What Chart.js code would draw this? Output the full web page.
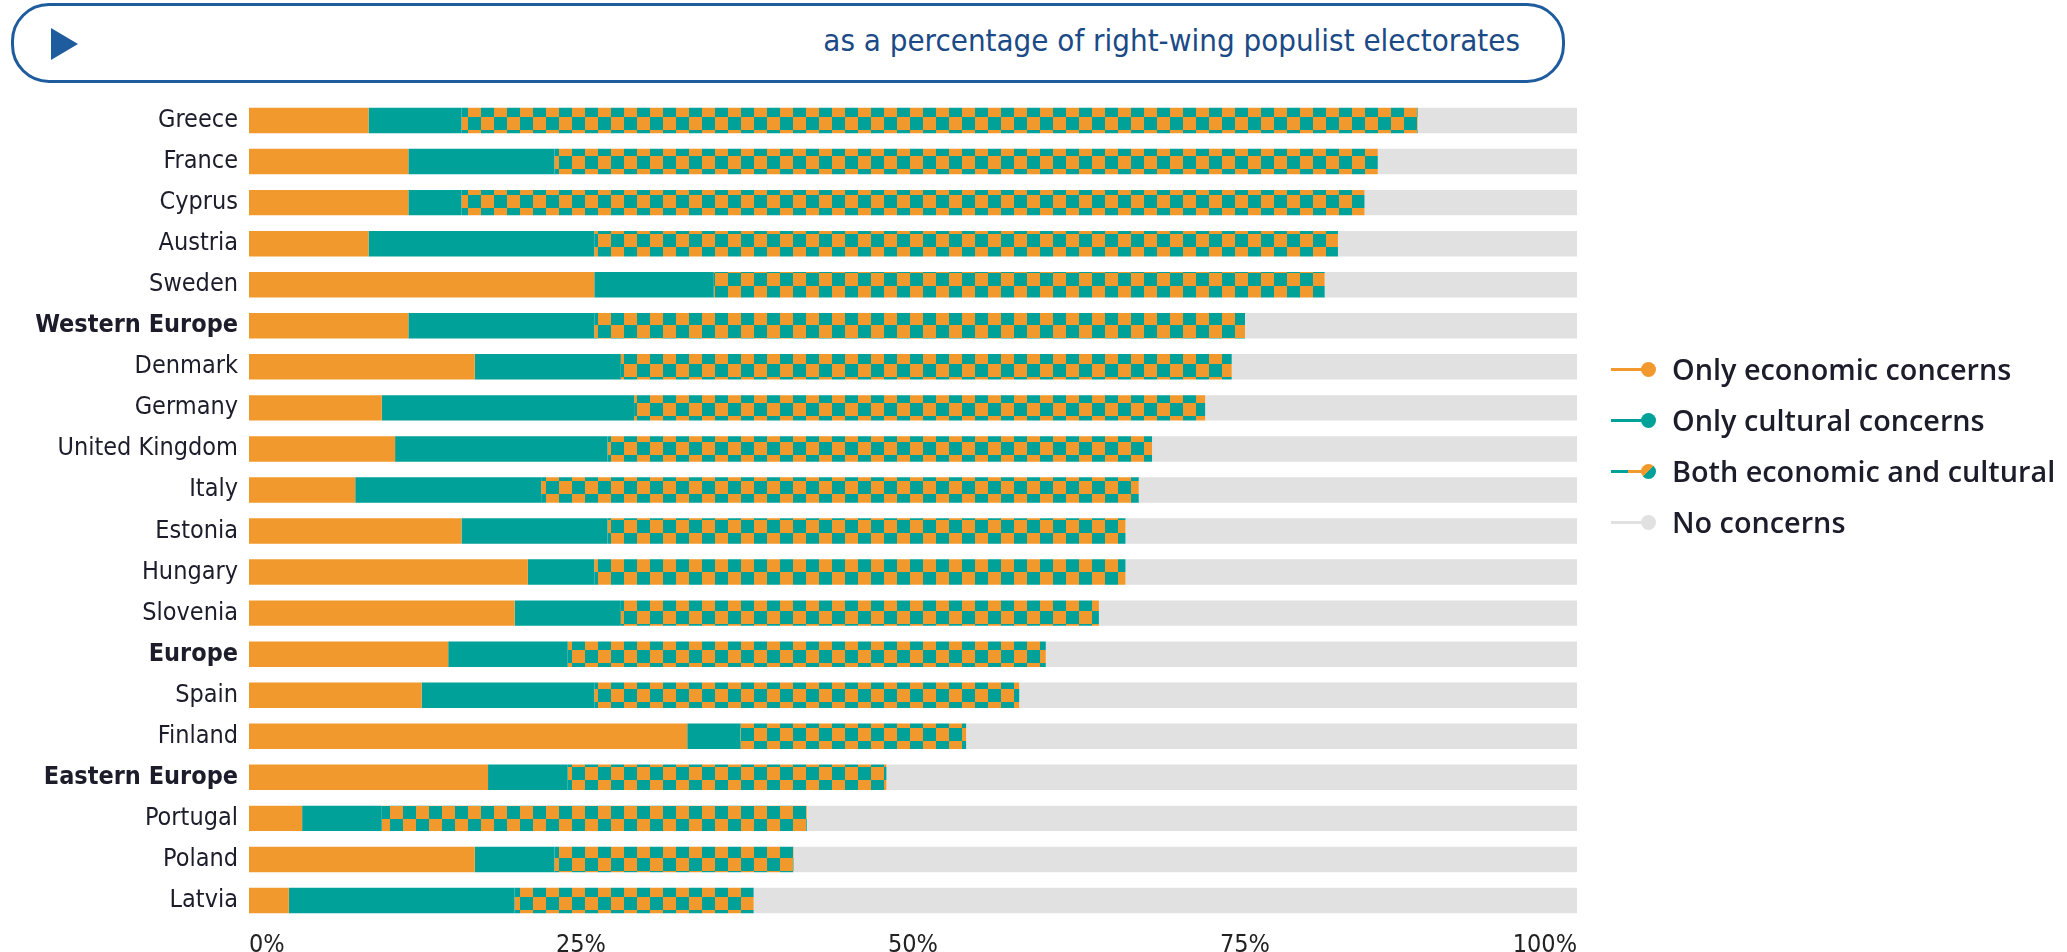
<!DOCTYPE html>
<html>
<head>
<meta charset="utf-8">
<script src="https://cdn.jsdelivr.net/npm/chart.js@4.4.0/dist/chart.umd.min.js"></script>
<style>
  body { margin: 0; background: #fff; width: 2067px; height: 952px; overflow: hidden; position: relative; }
  #header {
    position: absolute; left: 11px; top: 3px; width: 1548px; height: 74px;
    border: 3px solid #1f5c9e; border-radius: 38px; box-sizing: content-box;
  }
  #header .tri {
    position: absolute; left: 37px; top: 22px; width: 0; height: 0;
    border-top: 16px solid transparent; border-bottom: 16px solid transparent;
    border-left: 27px solid #1f5c9e;
  }
  #header .txt {
    position: absolute; right: 42px; top: 16px;
    font-family: "Liberation Sans Narrow", "DejaVu Sans Condensed", sans-serif;
    font-size: 31px; color: #1b4a86;
  }
  #chart { position: absolute; left: 0; top: 0; }
  #legend { position: absolute; left: 1611px; top: 352px; font-family: "Open Sans", sans-serif; }
  .item { position: relative; height: 51px; }
  .line { position: absolute; left: 0; top: 16px; width: 34px; height: 3px; }
  .dot { position: absolute; left: 30px; top: 10px; width: 15px; height: 15px; border-radius: 50%; }
  .lab { position: absolute; left: 61px; top: -3px; font-size: 28.8px; font-weight: 600; color: #1c1c2a; white-space: nowrap; }
</style>
</head>
<body>
<div id="header"><div class="tri"></div><div class="txt">as a percentage of right-wing populist electorates</div></div>
<canvas id="chart" width="2067" height="952"></canvas>
<div id="legend"></div>
<script>
// data (percent of right-wing populist electorates)
const countries = ['Greece', 'France', 'Cyprus', 'Austria', 'Sweden', 'Western Europe', 'Denmark', 'Germany',
  'United Kingdom', 'Italy', 'Estonia', 'Hungary', 'Slovenia', 'Europe', 'Spain', 'Finland',
  'Eastern Europe', 'Portugal', 'Poland', 'Latvia'];
const economic = [9, 12, 12, 9, 26, 12, 17, 10, 11, 8, 16, 21, 20, 15, 13, 33, 18, 4, 17, 3];
const cultural = [7, 11, 4, 17, 9, 14, 11, 19, 16, 14, 11, 5, 8, 9, 13, 4, 6, 6, 6, 17];
const both = [72, 62, 68, 56, 46, 49, 46, 43, 41, 45, 39, 40, 36, 36, 32, 17, 24, 32, 18, 18];
const aggregates = ['Western Europe', 'Europe', 'Eastern Europe'];
const seriesNames = ['Only economic concerns', 'Only cultural concerns', 'Both economic and cultural', 'No concerns'];
const xTicks = [0, 25, 50, 75, 100];

const ORANGE = '#f2992d';
const TEAL = '#00a199';
const GREY = '#e1e1e1';

// remaining share up to 100%
const none = countries.map((c, i) => 100 - economic[i] - cultural[i] - both[i]);

// checkered fill for "both"
function makeChecker() {
  const s = 13;
  const pc = document.createElement('canvas');
  pc.width = s * 2; pc.height = s * 2;
  const g = pc.getContext('2d');
  g.fillStyle = ORANGE; g.fillRect(0, 0, s * 2, s * 2);
  g.fillStyle = TEAL;
  g.fillRect(s, 0, s, s);
  g.fillRect(0, s, s, s);
  return document.getElementById('chart').getContext('2d').createPattern(pc, 'repeat');
}
const checker = makeChecker();

const fontFam = '"Liberation Sans Narrow", "DejaVu Sans Condensed", sans-serif';

new Chart(document.getElementById('chart'), {
  type: 'bar',
  data: {
    labels: countries,
    datasets: [
      { label: seriesNames[0], data: economic, backgroundColor: ORANGE },
      { label: seriesNames[1], data: cultural, backgroundColor: TEAL },
      { label: seriesNames[2], data: both, backgroundColor: checker },
      { label: seriesNames[3], data: none, backgroundColor: GREY }
    ]
  },
  options: {
    indexAxis: 'y',
    responsive: false,
    animation: false,
    datasets: { bar: { categoryPercentage: 1, barPercentage: 0.62, borderWidth: 0 } },
    layout: { padding: { top: 100, right: 490, bottom: 0, left: 0 } },
    plugins: { legend: { display: false }, tooltip: { enabled: false } },
    scales: {
      x: {
        stacked: true, min: 0, max: 100,
        grid: { display: false }, border: { display: false },
        afterBuildTicks: (s) => { s.ticks = xTicks.map(v => ({ value: v })); },
        afterFit: (s) => { s.height = 31; },
        ticks: {
          align: 'inner', padding: 1, color: '#222',
          font: { family: fontFam, size: 25 },
          callback: (v) => v + '%'
        }
      },
      y: {
        stacked: true,
        grid: { display: false }, border: { display: false },
        afterFit: (s) => { s.width = 249; },
        ticks: {
          padding: 3, color: '#1c1c2a',
          font: (ctx) => ({
            family: fontFam, size: 25,
            weight: aggregates.includes(countries[ctx.index]) ? 'bold' : 'normal'
          })
        }
      }
    }
  }
});

// legend
const legend = document.getElementById('legend');
const marks = [
  [ORANGE, ORANGE],
  [TEAL, TEAL],
  ['linear-gradient(to right, ' + TEAL + ' 50%, ' + ORANGE + ' 50%)', 'linear-gradient(135deg, ' + ORANGE + ' 50%, ' + TEAL + ' 50%)'],
  [GREY, GREY]
];
seriesNames.forEach((name, i) => {
  const it = document.createElement('div');
  it.className = 'item';
  it.innerHTML = '<div class="line" style="background:' + marks[i][0] + '"></div>' +
    '<div class="dot" style="background:' + marks[i][1] + '"></div>' +
    '<div class="lab">' + name + '</div>';
  legend.appendChild(it);
});
</script>
</body>
</html>
